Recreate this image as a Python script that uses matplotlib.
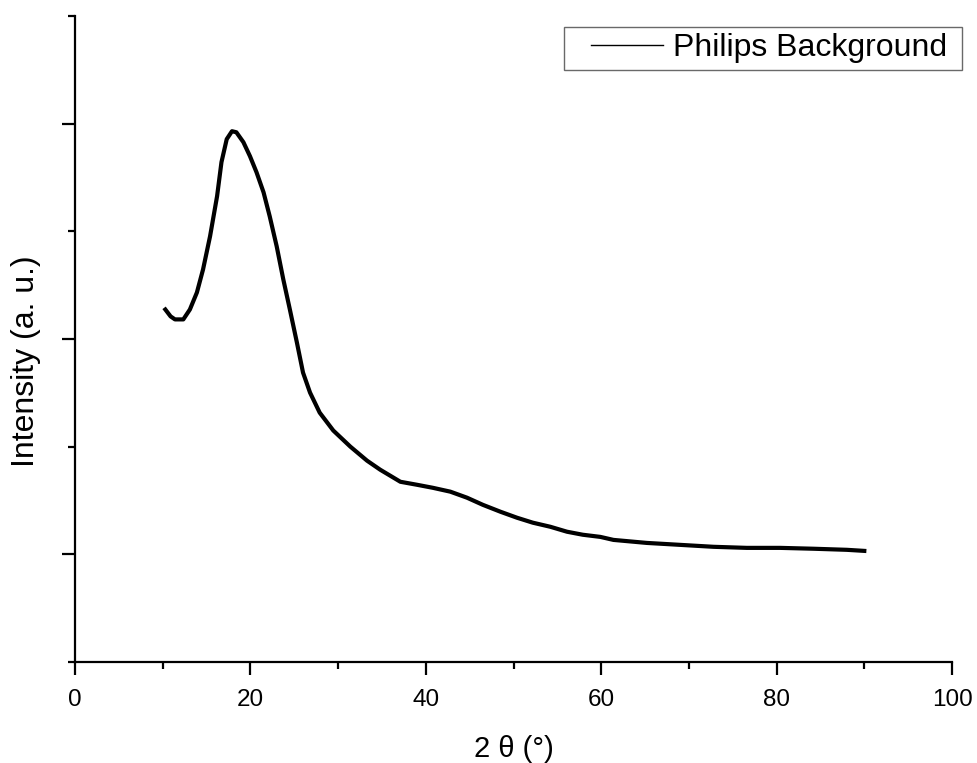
import matplotlib
matplotlib.use("Agg")
import matplotlib.pyplot as plt
from matplotlib.ticker import MultipleLocator, NullFormatter
from matplotlib.legend_handler import HandlerLine2D

plt.rcParams['font.family'] = ['Liberation Sans', 'DejaVu Sans']

# values (centre of the noisy trace)
two_theta = [10.3, 10.9, 11.4, 12.35, 13.1, 13.9, 14.6, 15.4, 16.2, 16.7, 17.3,
             17.9, 18.4, 19.2, 19.95, 20.7, 21.5, 22.2, 23.0, 23.75, 24.5, 25.3,
             26.0, 26.8, 27.9, 29.45, 31.4, 33.3, 34.8, 37.1, 39.0, 40.8, 42.8,
             44.7, 46.5, 48.5, 50.4, 52.2, 54.2, 56.1, 57.9, 59.9, 61.4, 65.2,
             69.0, 72.8, 76.6, 80.4, 84.2, 88.0, 90.0]
intensity = [2137, 2105, 2091, 2091, 2137, 2216, 2323, 2477, 2663, 2821, 2928,
             2965, 2960, 2914, 2849, 2774, 2681, 2570, 2430, 2277, 2137, 1984,
             1844, 1751, 1658, 1575, 1500, 1435, 1393, 1337, 1323, 1309, 1291,
             1263, 1230, 1198, 1170, 1147, 1128, 1105, 1091, 1081, 1067, 1053,
             1044, 1035, 1030, 1030, 1026, 1021, 1016]

fig = plt.figure(figsize=(9.77, 7.63), dpi=100)
ax = fig.add_axes([75 / 977, 1 - 662 / 763, 877 / 977, 646 / 763])

ax.plot(two_theta, intensity, color='black', lw=3.0, label='Philips Background ')

ax.set_xlim(0, 100)
ax.set_ylim(500, 3500)
ax.xaxis.set_major_locator(MultipleLocator(20))
ax.xaxis.set_minor_locator(MultipleLocator(10))
ax.yaxis.set_major_locator(MultipleLocator(1000))
ax.yaxis.set_minor_locator(MultipleLocator(500))
ax.yaxis.set_major_formatter(NullFormatter())

for s in ['top', 'right']:
    ax.spines[s].set_visible(False)
for s in ['left', 'bottom']:
    ax.spines[s].set_linewidth(1.6)

ax.tick_params(which='major', length=9.5, width=1.6, direction='out', labelsize=17.5, pad=10)
ax.tick_params(which='minor', length=5, width=1.6, direction='out')

ax.set_xlabel('2 θ (°)', fontsize=21, labelpad=17)
ax.set_ylabel('Intensity (a. u.)', fontsize=23)
ax.yaxis.set_label_coords(-0.039, 0.465)

leg = ax.legend(loc='upper right', bbox_to_anchor=(962 / 977, 1 - 27 / 763),
                bbox_transform=fig.transFigure, borderaxespad=0, fancybox=False,
                fontsize=23, handlelength=2.9, handletextpad=0.3, borderpad=0.2,
                handler_map={ax.lines[0]: HandlerLine2D(xpad=0.66)})
leg.get_frame().set_edgecolor('#444444')
leg.get_frame().set_linewidth(1.0)
leg.get_lines()[0].set_linewidth(1.0)

fig.savefig('out.png', dpi=100)
